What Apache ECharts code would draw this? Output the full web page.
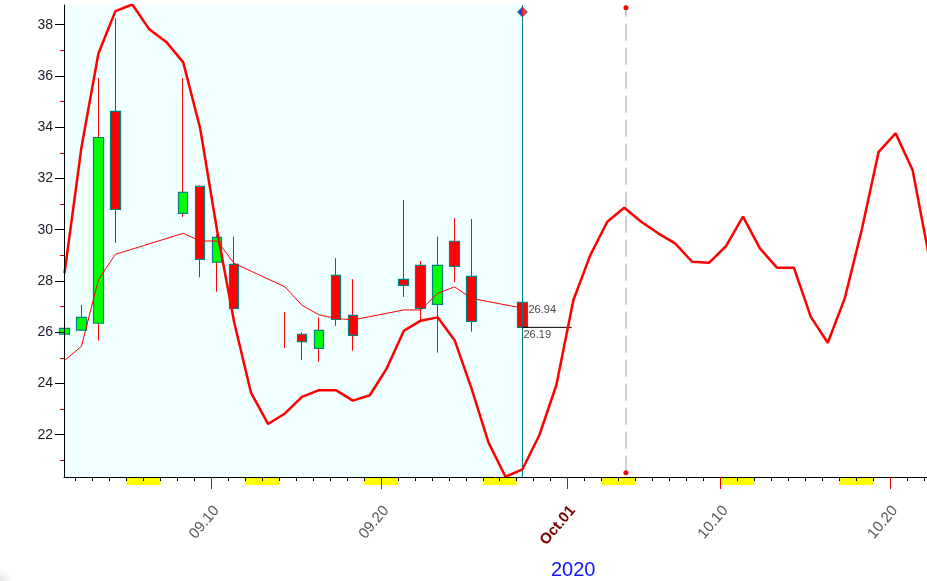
<!DOCTYPE html>
<html><head><meta charset="utf-8">
<script src="https://cdn.jsdelivr.net/npm/echarts@6/dist/echarts.min.js"></script>
<style>html,body{margin:0;padding:0;background:#fff}#c{width:927px;height:581px}</style>
</head><body><div id="c"></div>
<script>
// ---- data ----
const candleDates = ['2020-09-01','2020-09-02','2020-09-03','2020-09-04','2020-09-08','2020-09-09','2020-09-10','2020-09-11','2020-09-14','2020-09-15','2020-09-16','2020-09-17','2020-09-18','2020-09-21','2020-09-22','2020-09-23','2020-09-24','2020-09-25','2020-09-28'];
const openPrices  = [25.92,26.08,26.35,34.62,30.64,31.69,28.73,28.65,26.10,25.92,25.37,28.22,26.66,28.06,28.61,27.09,29.55,28.18,27.17];
const closePrices = [26.15,26.58,33.60,30.79,31.46,28.84,29.70,26.93,26.10,25.63,26.07,26.50,25.88,27.83,26.93,28.61,28.57,26.42,26.19];
const lowPrices   = [24.88,26.05,25.67,29.49,30.50,28.14,27.58,26.90,25.39,24.91,24.85,26.25,25.28,27.38,26.45,25.20,27.95,26.02,24.88];
const highPrices  = [26.60,27.06,35.92,38.25,35.92,31.74,29.80,29.73,26.79,26.00,26.58,28.89,28.07,31.16,28.78,29.73,30.45,30.42,27.17];
const maValues    = [24.90,25.45,28.05,29.04,29.86,29.56,29.56,28.69,27.77,27.05,26.68,26.54,26.48,26.87,26.87,27.52,27.77,27.32,26.94];

const cycleStartDate = '2020-09-01';
const cycleValues = [28.30,33.22,36.88,38.53,38.79,37.82,37.33,36.53,33.95,29.95,
                     26.40,23.63,22.42,22.83,23.48,23.74,23.74,23.33,23.54,24.59,
                     26.05,26.45,26.58,25.69,23.80,21.69,20.36,20.65,21.99,23.94,
                     27.25,29.01,30.31,30.86,30.31,29.86,29.47,28.75,28.71,29.36,
                     30.51,29.27,28.52,28.52,26.60,25.59,27.32,29.99,33.04,33.76,
                     32.33,28.85];

const weekendStarts = ['2020-09-05','2020-09-12','2020-09-19','2020-09-26','2020-10-03','2020-10-10','2020-10-17'];
const xLabelDates = ['2020-09-10','2020-09-20','2020-10-01','2020-10-10','2020-10-20'];
const xLabelTexts = ['09.10','09.20','Oct.01','10.10','10.20'];
const yLabelValues = [22,24,26,28,30,32,34,36,38];
const yMinorValues = [21,23,25,27,29,31,33,35,37];
const maLastLabel = '26.94';
const closeLastLabel = '26.19';
const cyclePeakMarkerDate = '2020-10-04';
const yearTitle = '2020';

// ---- helpers ----
const DAY = 86400000;
const base = Date.parse('2020-09-01T00:00:00Z');
const dayIdx = s => (Date.parse(s + 'T00:00:00Z') - base) / DAY;
const OFF = 0.34;              // intraday position of a bar inside its day
const X_MIN = 0.31, X_MAX = 51.19;
const Y_MIN = 20.35, Y_MAX = 38.77;

const candleX = candleDates.map(d => dayIdx(d) + OFF);
const lastX = candleX[candleX.length - 1];
const lastClose = closePrices[closePrices.length - 1];
const lastMA = maValues[maValues.length - 1];

const wickData = candleX.map((x, i) => [x, openPrices[i], closePrices[i], lowPrices[i], highPrices[i]]);
const bodyData = candleX.map((x, i) => [x, openPrices[i], closePrices[i],
   Math.min(openPrices[i], closePrices[i]), Math.max(openPrices[i], closePrices[i])])
   .filter(r => r[1] !== r[2]);
const maData = candleX.map((x, i) => [x, maValues[i]]);
const cycleData = cycleValues.map((v, i) => [dayIdx(cycleStartDate) + i + OFF, v]);
const weekendData = weekendStarts.map(d => [dayIdx(d), Y_MIN]);
const dayTicks = []; for (let d = 1; d <= 51; d++) dayTicks.push(d);
const labelDays = xLabelDates.map(dayIdx);
const markerX = dayIdx(cyclePeakMarkerDate) + 0.44;

const FONT = "'Liberation Sans', Arial, sans-serif";

const chart = echarts.init(document.getElementById('c'), null, {renderer: 'canvas'});
chart.setOption({
  animation: false,
  backgroundColor: '#ffffff',
  grid: {left: 64, right: 0, top: 5, bottom: 104},
  xAxis: [{
    type: 'value', min: X_MIN, max: X_MAX, z: 10,
    axisLine: {show: true, onZero: false, lineStyle: {color: '#000', width: 1}},
    axisTick: {show: true, customValues: dayTicks, length: 4, lineStyle: {color: '#000'}},
    axisLabel: {show: false},
    splitLine: {show: false}
  }, {
    type: 'value', min: X_MIN, max: X_MAX, position: 'bottom', z: 10,
    axisLine: {show: false},
    axisTick: {show: true, customValues: labelDays, length: 12, lineStyle: {color: '#e00000'}},
    axisLabel: {
      show: true, customValues: labelDays.map(d => d + 0.3), rotate: 50, margin: 31,
      fontFamily: FONT, fontSize: 15, color: '#555',
      formatter: v => {
        const i = labelDays.findIndex(d => Math.abs(d + 0.3 - v) < 0.01);
        if (i < 0) return '';
        return xLabelTexts[i] === 'Oct.01' ? '{b|' + xLabelTexts[i] + '}' : xLabelTexts[i];
      },
      rich: {b: {fontFamily: FONT, fontSize: 15, fontWeight: 'bold', color: '#7a0000'}}
    },
    splitLine: {show: false}
  }],
  yAxis: [{
    type: 'value', min: Y_MIN, max: Y_MAX, z: 10,
    axisLine: {show: true, onZero: false, lineStyle: {color: '#000', width: 1}},
    axisTick: {show: true, customValues: yLabelValues, length: 9, lineStyle: {color: '#000'}},
    axisLabel: {show: true, customValues: yLabelValues, margin: 11, fontFamily: FONT, fontSize: 14, color: '#1a1a2a'},
    splitLine: {show: false}
  }, {
    type: 'value', min: Y_MIN, max: Y_MAX, position: 'left', z: 10,
    axisLine: {show: false},
    axisTick: {show: true, customValues: yMinorValues, length: 4, lineStyle: {color: '#d00000'}},
    axisLabel: {show: false},
    splitLine: {show: false}
  }],
  series: [
    { // weekend markers + shaded history background
      type: 'custom', z: 1, clip: false,
      encode: {x: 0, y: 1},
      data: weekendData,
      renderItem: (params, api) => {
        const p1 = api.coord([api.value(0), Y_MIN]);
        const p2 = api.coord([api.value(0) + 2, Y_MIN]);
        return {type: 'rect', shape: {x: p1[0], y: p1[1] + 1, width: p2[0] - p1[0], height: 7},
                style: {fill: '#ffff00'}};
      },
      markArea: {silent: true, itemStyle: {color: '#f0ffff'},
        data: [[{xAxis: X_MIN}, {xAxis: lastX}]]}
    },
    { // wicks
      type: 'candlestick', name: 'wick', clip: false, z: 3,
      encode: {x: 0, y: [1, 2, 3, 4]}, barWidth: 1,
      itemStyle: {color: '#ff0000', color0: '#ff0000', borderColor: '#ff0000', borderColor0: '#ff0000', borderWidth: 1},
      data: wickData
    },
    { // bodies
      type: 'candlestick', name: 'body', clip: false, z: 4,
      encode: {x: 0, y: [1, 2, 3, 4]}, barWidth: 10,
      itemStyle: {color: '#00ff00', color0: '#ff0000', borderColor: '#008080', borderColor0: '#008080', borderWidth: 1.2},
      data: bodyData
    },
    { // moving average
      type: 'line', z: 5, symbol: 'none', data: maData,
      lineStyle: {color: '#ff0000', width: 1}
    },
    { // cycle line
      type: 'line', z: 6, symbol: 'none', data: cycleData,
      lineStyle: {color: '#ff0000', width: 2.5}
    },
    { // last-bar vertical line
      type: 'line', z: 5, symbol: 'none', data: [[lastX, Y_MIN], [lastX, Y_MAX]],
      lineStyle: {color: '#008080', width: 1}
    },
    { // last close horizontal line
      type: 'line', z: 5, symbol: 'none', data: [[lastX, lastClose], [lastX + 2.9, lastClose]],
      lineStyle: {color: '#000', width: 1}
    },
    { // cycle peak dashed marker
      type: 'line', z: 2, symbol: 'circle', symbolSize: 5,
      data: [[markerX, 20.52], [markerX, 38.66]],
      itemStyle: {color: '#ff0000'},
      lineStyle: {color: '#c0c0c0', width: 1.5, type: [17, 7]}
    },
    { // diamond
      type: 'scatter', z: 8, symbol: 'diamond', symbolSize: 10,
      data: [[lastX, 38.5]],
      itemStyle: {
        color: new echarts.graphic.LinearGradient(0, 0, 1, 0, [
          {offset: 0, color: '#0000ff'}, {offset: 0.5, color: '#0000ff'},
          {offset: 0.5, color: '#ff0000'}, {offset: 1, color: '#ff0000'}]),
        borderColor: '#008080', borderWidth: 1
      }
    },
    { // value labels
      type: 'scatter', z: 9, symbolSize: 0,
      data: [
        {value: [lastX, lastMA], label: {show: true, formatter: maLastLabel, position: 'right', distance: 6, offset: [0, 2]}},
        {value: [lastX, lastClose], label: {show: true, formatter: closeLastLabel, position: 'right', distance: 1, offset: [0, 8]}}
      ],
      label: {fontFamily: FONT, fontSize: 11, color: '#111'}
    }
  ],
  graphic: [
    {type: 'text', left: 573 - 22, top: 560, style: {text: yearTitle, fontFamily: FONT, fontSize: 20, fill: '#1414ff'}},
    {type: 'rect', left: 0, top: 566, shape: {width: 110, height: 15}, z: -1,
     style: {fill: new echarts.graphic.RadialGradient(0, 1, 0.9, [
        {offset: 0, color: 'rgba(0,0,0,0.10)'}, {offset: 1, color: 'rgba(0,0,0,0)'}])}}
  ]
});
</script></body></html>
